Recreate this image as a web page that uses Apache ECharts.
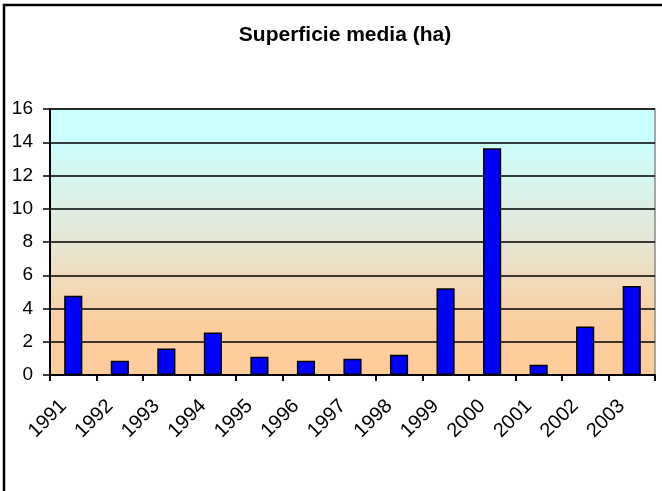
<!DOCTYPE html>
<html>
<head>
<meta charset="utf-8">
<script src="https://cdn.jsdelivr.net/npm/echarts@6/dist/echarts.min.js"></script>
<style>
	html, body { margin: 0; padding: 0; background: #fff; }
	#chart { width: 662px; height: 491px; }
</style>
</head>
<body>
<div id="chart"></div>
<script>
const years = ['1991', '1992', '1993', '1994', '1995', '1996', '1997', '1998', '1999', '2000', '2001', '2002', '2003']
const superficie = [4.76, 0.86, 1.6, 2.56, 1.1, 0.86, 0.98, 1.22, 5.22, 13.64, 0.62, 2.92, 5.36]
const yTicks = { min: 0, max: 16, step: 2 }

const font = 'Liberation Sans, Arial, sans-serif'

const chart = echarts.init(document.getElementById('chart'), null, { renderer: 'canvas' })

const option = {
	backgroundColor: '#fff',
	animation: false,
	title: {
		text: 'Superficie media (ha)',
		left: 340,
		top: 20,
		textAlign: 'center',
		textStyle: {
			fontFamily: font,
			fontSize: 21,
			fontWeight: 'bold',
			color: '#000'
		}
	},
	graphic: [
		{
			type: 'polyline',
			shape: { points: [[4, 491], [4, 5], [662, 5]] },
			style: { stroke: '#000', lineWidth: 2.5, fill: null }
		}
	],
	grid: {
		left: 50,
		right: 7,
		top: 109,
		bottom: 116,
		show: true,
		borderColor: '#8c8c8c',
		borderWidth: 1.5,
		backgroundColor: {
			type: 'linear',
			x: 0, y: 0, x2: 0, y2: 1,
			colorStops: [
				{ offset: 0, color: '#ccffff' },
				{ offset: 0.12, color: '#ccffff' },
				{ offset: 0.5, color: '#e6e6d4' },
				{ offset: 0.8, color: '#fbcfa0' },
				{ offset: 1, color: '#ffcc99' }
			]
		}
	},
	xAxis: {
		type: 'category',
		data: years,
		boundaryGap: true,
		axisLine: { lineStyle: { color: '#000', width: 2 } },
		axisTick: { show: true, length: 6, lineStyle: { color: '#000', width: 2 } },
		axisLabel: {
			interval: 0,
			rotate: 45,
			margin: 18,
			padding: [0, 14, 0, 0],
			color: '#000',
			fontFamily: font,
			fontSize: 20
		}
	},
	yAxis: {
		type: 'value',
		min: yTicks.min,
		max: yTicks.max,
		interval: yTicks.step,
		axisLine: { show: true, lineStyle: { color: '#000', width: 2 } },
		axisTick: { show: true, length: 7, lineStyle: { color: '#000', width: 1.5 } },
		splitLine: { show: true, lineStyle: { color: '#000', width: 1.6 } },
		axisLabel: {
			margin: 17,
			color: '#000',
			fontFamily: font,
			fontSize: 19
		}
	},
	series: [
		{
			name: 'Superficie media (ha)',
			type: 'bar',
			data: superficie,
			barWidth: '39%',
			itemStyle: {
				color: '#0000ff',
				borderColor: '#000',
				borderWidth: 1.5
			}
		}
	]
}

chart.setOption(option)
</script>
</body>
</html>
